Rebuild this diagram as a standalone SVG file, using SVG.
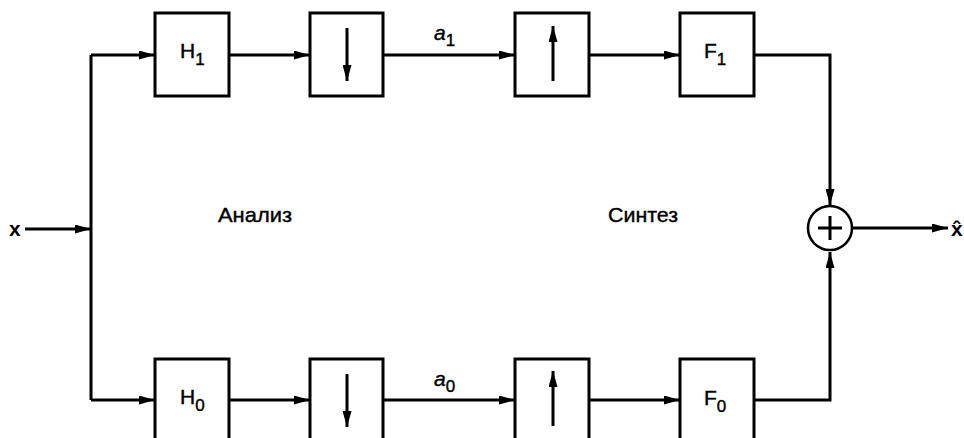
<svg xmlns="http://www.w3.org/2000/svg" width="964" height="438" viewBox="0 0 964 438">
<defs>
<marker id="ah" viewBox="0 0 16 9" refX="16" refY="4.5" markerWidth="16" markerHeight="9" markerUnits="userSpaceOnUse" orient="auto">
<path d="M0,0 L16,4.5 L0,9 Z" fill="#000"/>
</marker>
</defs>
<style>
.box{fill:#fff;stroke:#000;stroke-width:3}
.ln{fill:none;stroke:#000;stroke-width:3}
.ar{fill:none;stroke:#000;stroke-width:3;marker-end:url(#ah)}
.t{font-family:"Liberation Sans",Arial,sans-serif;font-size:21px;fill:#000;stroke:#000;stroke-width:0.4}
.s{font-size:17px}
.i{font-style:italic}
.b{font-weight:bold;stroke:none}
</style>
<rect width="964" height="438" fill="#fff"/>
<g id="connectors">
<line class="ar" x1="25" y1="229" x2="91" y2="229"/>
<polyline class="ln" points="91,55 91,400"/>
<line class="ar" x1="91" y1="55" x2="155" y2="55"/>
<line class="ar" x1="91" y1="400" x2="155" y2="400"/>
<line class="ar" x1="229" y1="55" x2="310" y2="55"/>
<line class="ar" x1="229" y1="400" x2="310" y2="400"/>
<line class="ar" x1="383" y1="55" x2="515" y2="55"/>
<line class="ar" x1="383" y1="400" x2="515" y2="400"/>
<line class="ar" x1="589" y1="55" x2="680" y2="55"/>
<line class="ar" x1="589" y1="400" x2="680" y2="400"/>
<polyline class="ar" points="754,55 830,55 830,205"/>
<polyline class="ar" points="754,400 830,400 830,252"/>
<line class="ar" x1="853" y1="228" x2="948" y2="228"/>
</g>
<g id="H1"><rect class="box" x="155" y="13" width="74" height="83"/><text class="t" x="180" y="58">H<tspan class="s" dy="7">1</tspan></text></g>
<g id="H0"><rect class="box" x="155" y="359" width="74" height="83"/><text class="t" x="180" y="404">H<tspan class="s" dy="7">0</tspan></text></g>
<g id="D1"><rect class="box" x="310" y="13" width="73" height="83"/><line class="ar" x1="347" y1="28" x2="347" y2="81"/></g>
<g id="D0"><rect class="box" x="310" y="359" width="73" height="83"/><line class="ar" x1="347" y1="374" x2="347" y2="427"/></g>
<g id="U1"><rect class="box" x="515" y="13" width="74" height="83"/><line class="ar" x1="553" y1="81" x2="553" y2="26"/></g>
<g id="U0"><rect class="box" x="515" y="359" width="74" height="83"/><line class="ar" x1="553" y1="426" x2="553" y2="371"/></g>
<g id="F1"><rect class="box" x="680" y="13" width="74" height="83"/><text class="t" x="704" y="58">F<tspan class="s" dy="7">1</tspan></text></g>
<g id="F0"><rect class="box" x="680" y="359" width="74" height="83"/><text class="t" x="704" y="405">F<tspan class="s" dy="7">0</tspan></text></g>
<g id="sum"><circle cx="830" cy="228" r="22" fill="#fff" stroke="#000" stroke-width="2.5"/><line class="ln" x1="818" y1="228" x2="842" y2="228" stroke-width="2.5"/><line class="ln" x1="830" y1="216" x2="830" y2="240" stroke-width="2.5"/></g>
<g id="labels">
<text class="t b" x="9" y="236">x</text>
<text class="t b" x="951" y="236">x̂</text>
<text class="t i" x="434" y="40">a<tspan class="s" font-style="normal" dy="6">1</tspan></text>
<text class="t i" x="434" y="386">a<tspan class="s" font-style="normal" dy="6">0</tspan></text>
<text class="t" x="218" y="222" textLength="74" lengthAdjust="spacingAndGlyphs">Анализ</text>
<text class="t" x="608" y="222" textLength="70" lengthAdjust="spacingAndGlyphs">Синтез</text>
</g>
</svg>
